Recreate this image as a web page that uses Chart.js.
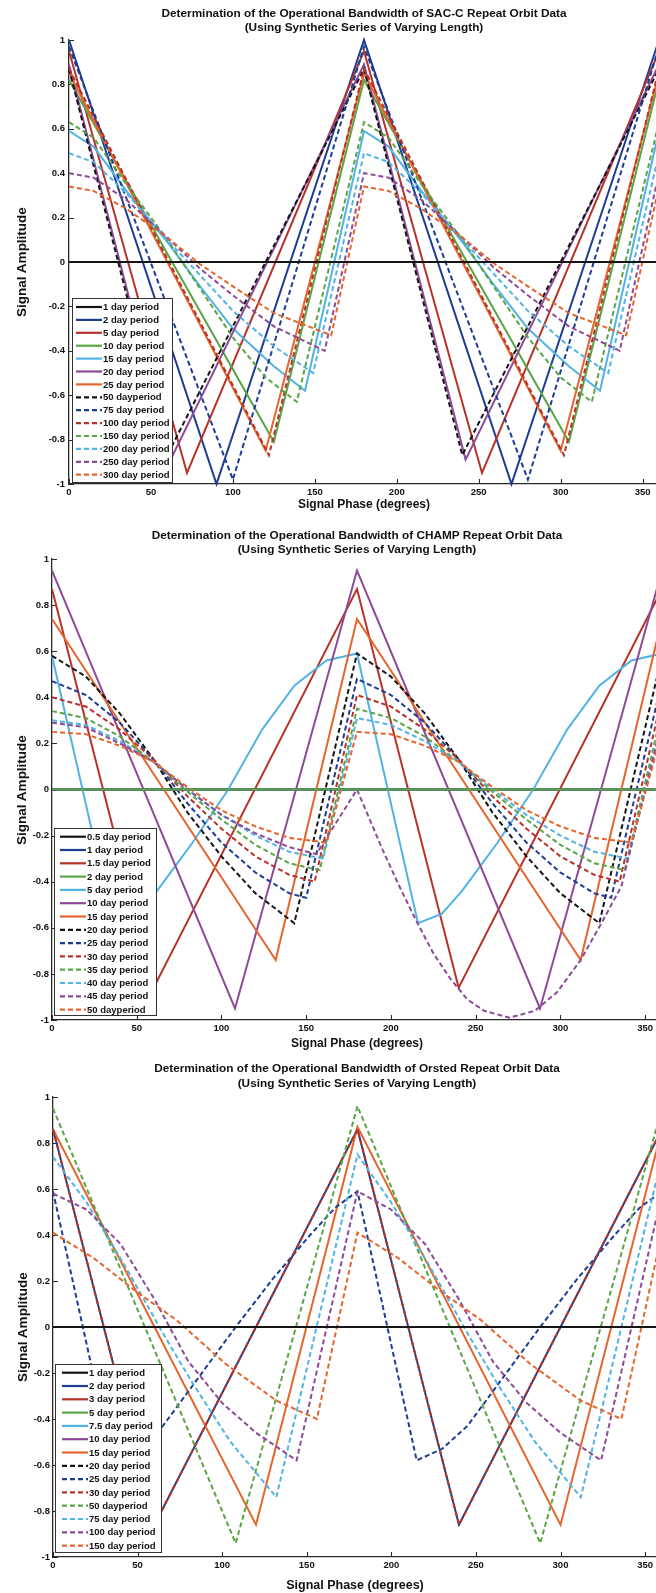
<!DOCTYPE html>
<html>
<head>
<meta charset="utf-8">
<script src="https://cdn.jsdelivr.net/npm/chart.js@4.4.1/dist/chart.umd.min.js"></script>
<style>
  html, body { margin: 0; padding: 0; background: #fff; overflow: hidden; }
  #page { position: relative; width: 656px; height: 1593px; overflow: hidden; background: #fff; }
  #page canvas { position: absolute; left: 0; }
  .txt { position: absolute; font-family: "Liberation Sans", Arial, sans-serif; font-weight: bold;
         color: #111; white-space: nowrap; text-align: center; }
  .title { font-size: 11.8px; line-height: 14px; transform: translateX(-50%); }
  .xlab { font-size: 12px; transform: translate(-50%, -50%); }
  .ylab { font-size: 13.5px; transform: translate(-50%, -50%) rotate(-90deg); }
</style>
</head>
<body>
<div id="page">
  <canvas id="sacc" width="668" height="515" style="top:0px"></canvas>
  <canvas id="champ" width="670" height="540" style="top:515px"></canvas>
  <canvas id="orsted" width="670" height="538" style="top:1055px"></canvas>

  <div class="txt title" style="left:364px; top:6px">Determination of the Operational Bandwidth of SAC-C Repeat Orbit Data<br>(Using Synthetic Series of Varying Length)</div>
  <div class="txt ylab" style="left:21px; top:262px">Signal Amplitude</div>
  <div class="txt xlab" style="left:364px; top:504px">Signal Phase (degrees)</div>

  <div class="txt title" style="left:357px; top:528px">Determination of the Operational Bandwidth of CHAMP Repeat Orbit Data<br>(Using Synthetic Series of Varying Length)</div>
  <div class="txt ylab" style="left:21px; top:790px">Signal Amplitude</div>
  <div class="txt xlab" style="left:357px; top:1043px">Signal Phase (degrees)</div>

  <div class="txt title" style="left:357px; top:1061px; line-height:14.5px">Determination of the Operational Bandwidth of Orsted Repeat Orbit Data<br>(Using Synthetic Series of Varying Length)</div>
  <div class="txt ylab" style="left:22px; top:1327px">Signal Amplitude</div>
  <div class="txt xlab" style="left:355px; top:1585px; font-size:12.5px">Signal Phase (degrees)</div>
</div>

<script>
// ---- axis ticks ----
const X_TICKS = [0, 50, 100, 150, 200, 250, 300, 350];
const Y_TICKS = [-1, -0.8, -0.6, -0.4, -0.2, 0, 0.2, 0.4, 0.6, 0.8, 1];

// ---- SAC-C: [phase (deg), amplitude] ----
const saccLabels = ['1 day period', '2 day period', '5 day period', '10 day period', '15 day period',
  '20 day period', '25 day period', '50 dayperiod', '75 day period', '100 day period',
  '150 day period', '200 day period', '250 day period', '300 day period'];
const sacc1 = [[0, 0], [360, 0]];
const sacc2 = [[0, 1], [90, -1], [180, 1], [270, -1], [360, 1]];
const sacc5 = [[0, 0.95], [72, -0.95], [180, 0.95], [252, -0.95], [360, 0.95]];
const sacc10 = [[0, 0.82], [125, -0.81], [180, 0.82], [305, -0.81], [360, 0.82]];
const sacc15 = [[0, 0.59], [15, 0.52], [35, 0.32], [60, 0.09], [80, -0.11], [100, -0.30], [125, -0.47], [144, -0.58],
  [180, 0.59], [195, 0.52], [215, 0.32], [240, 0.09], [260, -0.11], [280, -0.30], [305, -0.47], [324, -0.58], [360, 0.59]];
const sacc20 = [[0, 0.89], [62, -0.89], [180, 0.89], [242, -0.89], [360, 0.89]];
const sacc25 = [[0, 0.85], [120, -0.85], [180, 0.85], [300, -0.85], [360, 0.85]];
const sacc50 = [[0, 0.87], [60, -0.87], [180, 0.87], [240, -0.87], [360, 0.87]];
const sacc75 = [[0, 0.97], [100, -0.98], [180, 0.97], [280, -0.98], [360, 0.97]];
const sacc100 = [[0, 0.87], [122, -0.87], [180, 0.87], [302, -0.87], [360, 0.87]];
const sacc150 = [[0, 0.63], [15, 0.56], [35, 0.35], [60, 0.10], [80, -0.12], [100, -0.34], [120, -0.52], [139, -0.63],
  [180, 0.63], [195, 0.56], [215, 0.35], [240, 0.10], [260, -0.12], [280, -0.34], [300, -0.52], [319, -0.63], [360, 0.63]];
const sacc200 = [[0, 0.49], [15, 0.45], [35, 0.31], [60, 0.10], [80, -0.06], [100, -0.22], [125, -0.38], [149, -0.50],
  [180, 0.49], [195, 0.45], [215, 0.31], [240, 0.10], [260, -0.06], [280, -0.22], [305, -0.38], [329, -0.50], [360, 0.49]];
const sacc250 = [[0, 0.40], [15, 0.38], [35, 0.28], [60, 0.11], [80, -0.03], [100, -0.15], [125, -0.29], [156, -0.40],
  [180, 0.40], [195, 0.38], [215, 0.28], [240, 0.11], [260, -0.03], [280, -0.15], [305, -0.29], [336, -0.40], [360, 0.40]];
const sacc300 = [[0, 0.34], [15, 0.32], [35, 0.24], [60, 0.11], [80, -0.01], [100, -0.11], [125, -0.23], [160, -0.33],
  [180, 0.34], [195, 0.32], [215, 0.24], [240, 0.11], [260, -0.01], [280, -0.11], [305, -0.23], [340, -0.33], [360, 0.34]];

// ---- CHAMP ----
const champLabels = ['0.5 day period', '1 day period', '1.5 day period', '2 day period', '5 day period',
  '10 day period', '15 day period', '20 day period', '25 day period', '30 day period',
  '35 day period', '40 day period', '45 day period', '50 dayperiod'];
const champ05 = [[0, 0], [360, 0]];
const champ1 = [[0, 0], [360, 0]];
const champ15 = [[0, 0.87], [60, -0.86], [180, 0.87], [240, -0.86], [360, 0.87]];
const champ2 = [[0, 0], [360, 0]];
const champ5 = [[0, 0.58], [36, -0.58], [50, -0.54], [62, -0.44], [83, -0.23], [104, 0], [124, 0.26], [143, 0.45], [162, 0.56],
  [180, 0.59], [216, -0.58], [230, -0.54], [242, -0.44], [263, -0.23], [284, 0], [304, 0.26], [323, 0.45], [342, 0.56], [360, 0.59]];
const champ10 = [[0, 0.95], [108, -0.95], [180, 0.95], [288, -0.95], [360, 0.95]];
const champ15d = [[0, 0.74], [132, -0.74], [180, 0.74], [312, -0.74], [360, 0.74]];
const champ20 = [[0, 0.58], [20, 0.49], [40, 0.33], [60, 0.13], [80, -0.10], [100, -0.29], [120, -0.45], [143, -0.58],
  [180, 0.59], [200, 0.49], [220, 0.33], [240, 0.13], [260, -0.10], [280, -0.29], [300, -0.45], [323, -0.58], [360, 0.58]];
const champ25 = [[0, 0.47], [20, 0.41], [40, 0.29], [60, 0.13], [80, -0.06], [100, -0.23], [120, -0.36], [140, -0.45], [150, -0.47],
  [180, 0.48], [200, 0.41], [220, 0.29], [240, 0.13], [260, -0.06], [280, -0.23], [300, -0.36], [320, -0.45], [330, -0.47], [360, 0.47]];
const champ30 = [[0, 0.40], [20, 0.36], [40, 0.26], [60, 0.13], [80, -0.03], [100, -0.17], [120, -0.29], [140, -0.37], [155, -0.40],
  [180, 0.41], [200, 0.36], [220, 0.26], [240, 0.13], [260, -0.03], [280, -0.17], [300, -0.29], [320, -0.37], [335, -0.40], [360, 0.40]];
const champ35 = [[0, 0.34], [20, 0.31], [40, 0.23], [60, 0.12], [80, -0.01], [100, -0.13], [120, -0.24], [140, -0.32], [158, -0.35],
  [180, 0.35], [200, 0.31], [220, 0.23], [240, 0.12], [260, -0.01], [280, -0.13], [300, -0.24], [320, -0.32], [338, -0.35], [360, 0.34]];
const champ40 = [[0, 0.30], [20, 0.28], [40, 0.21], [60, 0.12], [80, 0.0], [100, -0.11], [120, -0.20], [140, -0.27], [160, -0.30],
  [180, 0.31], [200, 0.28], [220, 0.21], [240, 0.12], [260, 0.0], [280, -0.11], [300, -0.20], [320, -0.27], [340, -0.30], [360, 0.30]];
const champ45 = [[0, 0.29], [20, 0.27], [40, 0.20], [60, 0.12], [80, 0.0], [100, -0.11], [120, -0.19], [140, -0.25], [156, -0.28],
  [180, 0.0], [195, -0.26], [205, -0.42], [215, -0.57], [225, -0.71], [235, -0.82], [245, -0.91], [255, -0.96], [270, -0.99],
  [285, -0.96], [298, -0.88], [312, -0.74], [325, -0.57], [336, -0.42], [360, 0.29]];
const champ50 = [[0, 0.25], [20, 0.24], [40, 0.19], [60, 0.12], [80, 0.01], [100, -0.09], [120, -0.16], [140, -0.21], [162, -0.23],
  [180, 0.25], [200, 0.24], [220, 0.19], [240, 0.12], [260, 0.01], [280, -0.09], [300, -0.16], [320, -0.21], [342, -0.23], [360, 0.25]];

// ---- Orsted ----
const orstedLabels = ['1 day period', '2 day period', '3 day period', '5 day period', '7.5 day period',
  '10 day period', '15 day period', '20 day period', '25 day period', '30 day period',
  '50 dayperiod', '75 day period', '100 day period', '150 day period'];
const orsted1 = [[0, 0], [360, 0]];
const orsted2 = [[0, 0.86], [60, -0.86], [180, 0.86], [240, -0.86], [360, 0.86]];
const orsted3 = [[0, 0], [360, 0]];
const orsted5 = [[0, 0], [360, 0]];
const orsted7_5 = [[0, 0], [360, 0]];
const orsted10 = [[0, 0], [360, 0]];
const orsted15 = [[0, 0.86], [120, -0.86], [180, 0.87], [300, -0.86], [360, 0.86]];
const orsted20 = [[0, 0], [360, 0]];
const orsted25 = [[0, 0.59], [35, -0.58], [50, -0.53], [65, -0.43], [87, -0.21], [108, 0], [130, 0.21], [152, 0.40], [167, 0.52],
  [180, 0.59], [215, -0.58], [230, -0.53], [245, -0.43], [267, -0.21], [288, 0], [310, 0.21], [332, 0.40], [347, 0.52], [360, 0.59]];
const orsted30 = [[0, 0.86], [60, -0.86], [180, 0.86], [240, -0.86], [360, 0.86]];
const orsted50 = [[0, 0.95], [108, -0.94], [180, 0.96], [288, -0.94], [360, 0.95]];
const orsted75 = [[0, 0.74], [20, 0.54], [43, 0.26], [66, -0.04], [83, -0.25], [105, -0.50], [132, -0.74],
  [180, 0.75], [200, 0.54], [223, 0.26], [246, -0.04], [263, -0.25], [285, -0.50], [312, -0.74], [360, 0.74]];
const orsted100 = [[0, 0.58], [20, 0.51], [40, 0.36], [60, 0.12], [80, -0.15], [100, -0.33], [120, -0.46], [144, -0.58],
  [180, 0.59], [200, 0.51], [220, 0.36], [240, 0.12], [260, -0.15], [280, -0.33], [300, -0.46], [324, -0.58], [360, 0.58]];
const orsted150 = [[0, 0.41], [24, 0.30], [50, 0.15], [73, 0.03], [102, -0.16], [132, -0.32], [156, -0.40],
  [180, 0.41], [204, 0.30], [230, 0.15], [253, 0.03], [282, -0.16], [312, -0.32], [336, -0.40], [360, 0.41]];

// ---- line styles: seven colours, solid then dashed ----
const PALETTE = ['#151515', '#1d3d92', '#b7332a', '#5aa546', '#52b2e4', '#8c4a97', '#e4662c'];
const FONT = 'Liberation Sans, Arial, sans-serif';

// short tick marks pointing into the plot, as on a MATLAB axis
const innerTicks = {
  id: 'innerTicks',
  beforeDatasetsDraw(chart) {
    const { ctx, chartArea: a, scales: { x, y } } = chart;
    ctx.save();
    ctx.strokeStyle = '#2a2a2a';
    ctx.lineWidth = 1.1;
    ctx.beginPath();
    x.ticks.forEach(t => {
      const px = Math.round(x.getPixelForValue(t.value)) + 0.5;
      ctx.moveTo(px, a.bottom); ctx.lineTo(px, a.bottom - 5);
    });
    y.ticks.forEach(t => {
      const py = Math.round(y.getPixelForValue(t.value)) + 0.5;
      ctx.moveTo(a.left, py); ctx.lineTo(a.left + 5, py);
    });
    ctx.stroke();
    ctx.restore();
  }
};

// boxed legend placed inside the lower-left corner of the plot
const insetLegend = {
  id: 'insetLegend',
  afterDatasetsDraw(chart, args, o) {
    const ctx = chart.ctx;
    ctx.save();
    ctx.fillStyle = '#fff';
    ctx.fillRect(o.x, o.y, o.w, o.h);
    ctx.strokeStyle = '#333';
    ctx.lineWidth = 1;
    ctx.strokeRect(o.x + 0.5, o.y + 0.5, o.w - 1, o.h - 1);
    ctx.font = 'bold 9.5px ' + FONT;
    ctx.textBaseline = 'middle';
    ctx.textAlign = 'left';
    chart.data.datasets.forEach((ds, i) => {
      const yy = o.row0 + i * o.rowH;
      ctx.strokeStyle = ds.borderColor;
      ctx.lineWidth = 2.2;
      ctx.setLineDash(ds.borderDash);
      ctx.beginPath();
      ctx.moveTo(o.l0, yy); ctx.lineTo(o.l1, yy);
      ctx.stroke();
      ctx.setLineDash([]);
      ctx.fillStyle = '#111';
      ctx.fillText(ds.label, o.tx, yy + 0.5);
    });
    ctx.restore();
  }
};

function buildPanel(id, labels, series, geo, legend, topIndex) {
  const n = series.length;
  const datasets = series.map((pts, i) => ({
    label: labels[i],
    data: pts.map(p => ({ x: p[0], y: p[1] })),
    borderColor: PALETTE[i % 7],
    borderWidth: 2,
    borderDash: i >= 7 ? [5, 3] : [],
    pointRadius: 0,
    fill: false,
    tension: 0,
    clip: 4,
    order: i === topIndex ? -1 : n - i
  }));
  const tickFont = { family: FONT, size: 9.5, weight: 'bold' };
  return new Chart(document.getElementById(id), {
    type: 'line',
    data: { datasets },
    options: {
      responsive: false,
      animation: false,
      events: [],
      layout: { padding: { top: geo.top, right: geo.right, bottom: 0, left: 0 } },
      plugins: {
        legend: { display: false },
        tooltip: { enabled: false },
        title: { display: false },
        insetLegend: legend
      },
      scales: {
        x: {
          type: 'linear', min: 0, max: 360,
          afterBuildTicks: s => { s.ticks = X_TICKS.map(v => ({ value: v })); },
          afterFit: s => { s.height = geo.xh; },
          grid: { display: false, drawTicks: false },
          border: { display: true, color: '#2a2a2a', width: 1.3 },
          ticks: { padding: 3, color: '#111', font: tickFont, maxRotation: 0, autoSkip: false,
                   callback: v => String(v) }
        },
        y: {
          type: 'linear', min: -1, max: 1,
          afterBuildTicks: s => { s.ticks = Y_TICKS.map(v => ({ value: v })); },
          afterFit: s => { s.width = geo.yw; },
          grid: { display: false, drawTicks: false },
          border: { display: true, color: '#2a2a2a', width: 1.3 },
          ticks: { padding: geo.ypad, color: '#111', font: tickFont, autoSkip: false,
                   callback: v => String(Math.round(v * 10) / 10) }
        }
      }
    },
    plugins: [innerTicks, insetLegend]
  });
}

buildPanel('sacc', saccLabels,
  [sacc1, sacc2, sacc5, sacc10, sacc15, sacc20, sacc25, sacc50, sacc75, sacc100, sacc150, sacc200, sacc250, sacc300],
  { top: 40, right: 9, xh: 31, yw: 69, ypad: 4 },
  { x: 72, y: 298, w: 101, h: 185, row0: 307, rowH: 12.9, l0: 76, l1: 102, tx: 103 }, 0);

buildPanel('champ', champLabels,
  [champ05, champ1, champ15, champ2, champ5, champ10, champ15d, champ20, champ25, champ30, champ35, champ40, champ45, champ50],
  { top: 44, right: 8, xh: 35, yw: 52, ypad: 3 },
  { x: 54, y: 313, w: 103, h: 188, row0: 321.7, rowH: 13.3, l0: 60, l1: 86, tx: 87 }, 3);

buildPanel('orsted', orstedLabels,
  [orsted1, orsted2, orsted3, orsted5, orsted7_5, orsted10, orsted15, orsted20, orsted25, orsted30, orsted50, orsted75, orsted100, orsted150],
  { top: 42, right: 8, xh: 36, yw: 53, ypad: 3 },
  { x: 55, y: 309, w: 107, h: 189, row0: 317.7, rowH: 13.3, l0: 62, l1: 88, tx: 89 }, 0);
</script>
</body>
</html>
